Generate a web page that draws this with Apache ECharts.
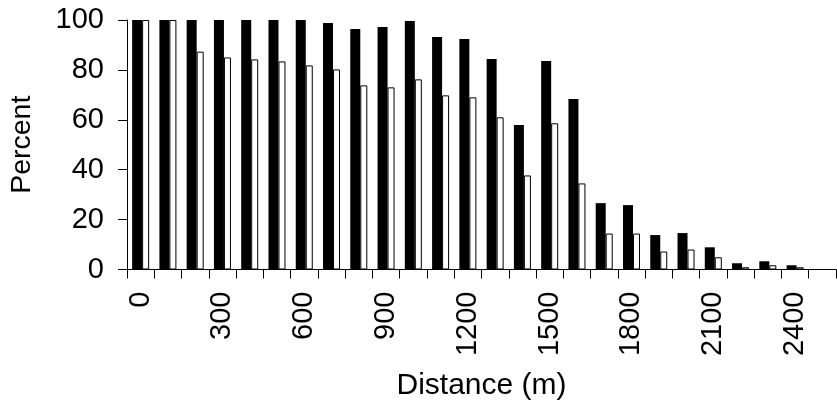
<!DOCTYPE html>
<html>
<head>
<meta charset="utf-8">
<script src="https://cdn.jsdelivr.net/npm/echarts@6/dist/echarts.min.js"></script>
<style>
  html, body { margin: 0; padding: 0; background: #fff; }
  #chart { width: 837px; height: 406px; }
</style>
</head>
<body>
<div id="chart"></div>
<script>
// Distance classes (m), one category every 100 m
const distances = [0, 100, 200, 300, 400, 500, 600, 700, 800, 900, 1000, 1100, 1200,
  1300, 1400, 1500, 1600, 1700, 1800, 1900, 2000, 2100, 2200, 2300, 2400, 2500];

// Filled series (percent)
const blackSeries = [100, 100, 100, 100, 100, 100, 100, 98.8, 96.4, 97.2, 99.6, 93.2, 92.4,
  84.4, 57.9, 83.6, 68.3, 26.6, 25.8, 13.8, 14.6, 8.9, 2.5, 3.3, 1.7, null];

// Open series (percent)
const whiteSeries = [100, 100, 87.3, 85.0, 84.2, 83.4, 81.8, 80.2, 73.8, 73.0, 76.2, 69.8, 69.0,
  61.0, 37.7, 58.6, 34.5, 14.4, 14.4, 7.2, 8.0, 4.9, 0.9, 1.7, 0.9, null];

const yTicks = { min: 0, max: 100, interval: 20 };

const FONT = 'Liberation Sans, Arial, sans-serif';
const chart = echarts.init(document.getElementById('chart'), null, { renderer: 'canvas' });

chart.setOption({
  backgroundColor: '#ffffff',
  animation: false,
  grid: { left: 124, right: 1, top: 20, bottom: 136.5, containLabel: false },
  xAxis: {
    type: 'category',
    data: distances.map(String),
    boundaryGap: true,
    name: 'Distance (m)',
    nameLocation: 'middle',
    nameGap: 101,
    nameTextStyle: { fontFamily: FONT, fontSize: 30, color: '#000' },
    axisLine: { show: true, lineStyle: { color: '#000', width: 1 } },
    axisTick: { show: true, interval: 0, length: 9, alignWithLabel: false, lineStyle: { color: '#000' } },
    axisLabel: {
      interval: 2,
      rotate: 90,
      margin: 22,
      fontFamily: FONT,
      fontSize: 29,
      color: '#000'
    },
    splitLine: { show: false }
  },
  yAxis: {
    type: 'value',
    min: yTicks.min,
    max: yTicks.max,
    interval: yTicks.interval,
    name: 'Percent',
    nameLocation: 'middle',
    nameGap: 90,
    nameRotate: 90,
    nameTextStyle: { fontFamily: FONT, fontSize: 28.5, color: '#000' },
    axisLine: { show: true, lineStyle: { color: '#000', width: 1 } },
    axisTick: { show: true, length: 9, lineStyle: { color: '#000' } },
    axisLabel: { margin: 23, fontFamily: FONT, fontSize: 29, color: '#000' },
    splitLine: { show: false }
  },
  series: [
    {
      type: 'bar',
      data: blackSeries,
      barWidth: 10,
      barGap: '0%',
      itemStyle: { color: '#000000' }
    },
    {
      type: 'bar',
      data: whiteSeries,
      barWidth: 7,
      itemStyle: { color: '#ffffff', borderColor: '#000000', borderWidth: 1 }
    }
  ]
});
</script>
</body>
</html>
